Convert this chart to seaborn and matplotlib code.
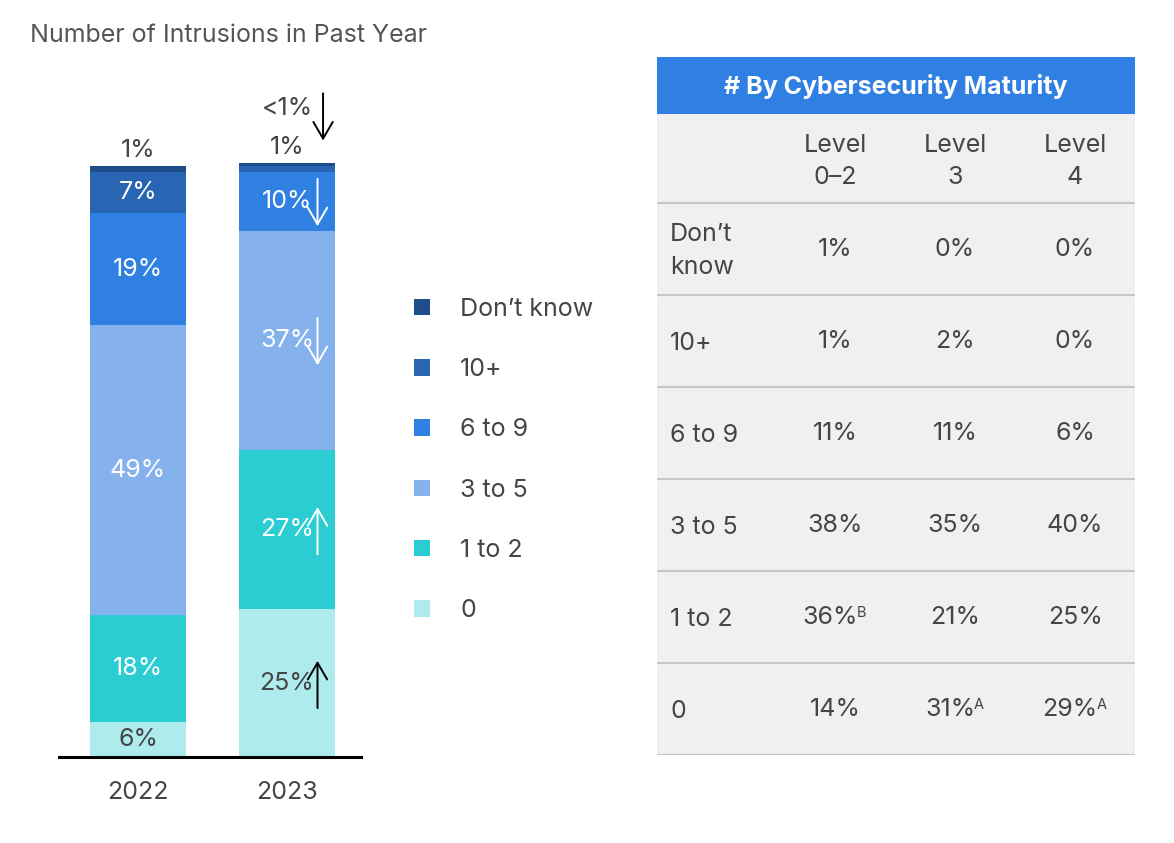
import numpy as np
import pandas as pd
import matplotlib
matplotlib.use('Agg')
import matplotlib.pyplot as plt
import seaborn as sns
from matplotlib.patches import Patch, Rectangle, FancyArrowPatch

# chart data
years = ['2022', '2023']
categories = ['0', '1 to 2', '3 to 5', '6 to 9', '10+', 'Don\u2019t know']
values_2022 = [6, 18, 49, 19, 7, 1]
values_2023 = [25, 27, 37, 10, 1, 0.5]
labels_2022 = ['6%', '18%', '49%', '19%', '7%', '1%']
labels_2023 = ['25%', '27%', '37%', '10%', '1%', '<1%']
trend_2023 = [1, 1, -1, -1, 0, -1]  # significant change vs 2022
colors = ['#aeebed', '#2bcdd3', '#85b1ed', '#2f80e1', '#2866b4', '#1f4c8a']
text_colors = ['#444444', 'white', 'white', 'white', 'white', '#444444']

# table data
table_title = '# By Cybersecurity Maturity'
table_rows = ['Don\u2019t\nknow', '10+', '6 to 9', '3 to 5', '1 to 2', '0']
table_cols = ['Level\n0\u20132', 'Level\n3', 'Level\n4']
level_02 = ['1%', '1%', '11%', '38%', '36%', '14%']
level_3 = ['0%', '2%', '11%', '35%', '21%', '31%']
level_4 = ['0%', '0%', '6%', '40%', '25%', '29%']
sup_02 = ['', '', '', '', 'B', '']
sup_3 = ['', '', '', '', '', 'A']
sup_4 = ['', '', '', '', '', 'A']

W, H = 1174, 843
TXT = '#454545'
FS = 18
PX = 100 / 72  # pixels per point

sns.set_theme(style='white')
plt.rcParams['font.family'] = ['Inter', 'DejaVu Sans']
plt.rcParams['font.weight'] = 'normal'

df = pd.DataFrame({
    'year': np.repeat(years, len(categories)),
    'category': categories * len(years),
    'value': values_2022 + values_2023,
    'label': labels_2022 + labels_2023,
})
df['cum'] = df.groupby('year')['value'].cumsum()

fig = plt.figure(figsize=(W / 100, H / 100), dpi=100)

# ---- stacked bars (cumulative bars drawn from the top down)
ax = fig.add_axes([59 / W, (H - 757) / H, 302 / W, 680 / H])
for i in reversed(range(len(categories))):
    sub = df[df['category'] == categories[i]]
    sns.barplot(data=sub, x='year', y='cum', color=colors[i], saturation=1,
                width=0.64, errorbar=None, linewidth=0, edgecolor='none', ax=ax)
ax.set_xlim(-0.53, 1.497)
ax.set_ylim(0, 115)
ax.set_xlabel('')
ax.set_ylabel('')
ax.set_yticks([])
for s in ['top', 'left', 'right']:
    ax.spines[s].set_visible(False)
ax.spines['bottom'].set_color('black')
ax.spines['bottom'].set_linewidth(2.2)
ax.spines['bottom'].set_zorder(5)
ax.tick_params(axis='x', length=0, pad=17, labelsize=FS, colors=TXT)


def draw_arrow(pos, off, d, c):
    # vertical arrow next to a label, in pixel space
    base = ax.transData.transform(pos)
    x0 = base[0] + off[0] * PX
    y0 = base[1] + off[1] * PX
    inv = fig.transFigure.inverted()
    tail = inv.transform((x0, y0 - 17 * d * PX))
    head = inv.transform((x0, y0 + 17 * d * PX))
    fig.add_artist(FancyArrowPatch(tail, head, transform=fig.transFigure,
                                   arrowstyle='->,head_length=0.6,head_width=0.35',
                                   color=c, lw=1.4, mutation_scale=20,
                                   shrinkA=0, shrinkB=0))


for xi, yr in enumerate(years):
    sub = df[df['year'] == yr].reset_index(drop=True)
    total = sub['value'].sum()
    n_out = 0
    for i, row in sub.iterrows():
        if row['value'] >= 3:
            y = row['cum'] - row['value'] / 2
            ax.text(xi, y, row['label'], ha='center', va='center',
                    fontsize=FS, color=text_colors[i])
            pos, off = (xi, y), (22, -1)
            c = 'white' if text_colors[i] == 'white' else 'black'
        else:
            dy = 11 + 28 * n_out
            n_out += 1
            ax.annotate(row['label'], xy=(xi, total), xytext=(0, dy),
                        textcoords='offset points', ha='center', va='center',
                        fontsize=FS, color=TXT)
            pos, off, c = (xi, total), (26, dy - 6), 'black'
        if yr == '2023' and trend_2023[i] != 0:
            draw_arrow(pos, off, trend_2023[i], c)

fig.text(30 / W, 1 - 35 / H, 'Number of Intrusions in Past Year',
         fontsize=FS, color='#555555', va='center', ha='left')

# ---- legend
handles = [Patch(facecolor=colors[i], edgecolor='none', label=categories[i])
           for i in reversed(range(len(categories)))]
fig.legend(handles=handles, loc='center left',
           bbox_to_anchor=(414 / W, 1 - 460 / H), frameon=False,
           fontsize=FS, handlelength=0.65, handleheight=0.65,
           handletextpad=1.2, labelspacing=1.49, borderaxespad=0, borderpad=0,
           labelcolor=TXT)

# ---- table
tx0, ty0, tw, th = 657, 57, 478, 698
tax = fig.add_axes([tx0 / W, (H - ty0 - th) / H, tw / W, th / H])
tax.set_xlim(0, tw)
tax.set_ylim(th, 0)
tax.axis('off')
head_h, colhead_h, row_h = 57, 89, 92
tax.add_patch(Rectangle((0, 0), tw, head_h, color='#2f80e2', lw=0))
tax.add_patch(Rectangle((0, head_h), tw, th - head_h, color='#f0f0f0', lw=0))
tax.text(tw / 2, head_h / 2 + 1, table_title, ha='center', va='center',
         fontsize=FS, fontweight='bold', color='white')
col_x = [178, 298, 418]
for cx, lab in zip(col_x, table_cols):
    tax.text(cx, head_h + colhead_h / 2 + 3, lab, ha='center', va='center',
             fontsize=FS, color=TXT, linespacing=1.55)
y_top = head_h + colhead_h
tax.axhline(y_top, color='#c6c6c6', lw=1.5)
columns = [(level_02, sup_02), (level_3, sup_3), (level_4, sup_4)]
for r, rl in enumerate(table_rows):
    yc = y_top + row_h * r + row_h / 2
    tax.text(13, yc + 2, rl, ha='left', va='center', fontsize=FS, color=TXT,
             linespacing=1.55)
    for cx, (vals, sups) in zip(col_x, columns):
        shift = -5 if sups[r] else 0
        t = tax.text(cx + shift, yc + 1, vals[r], ha='center', va='center',
                     fontsize=FS, color=TXT)
        if sups[r]:
            tax.annotate(sups[r], xy=(1, 1), xycoords=t, xytext=(-1, 0.5),
                         textcoords='offset points', ha='left', va='top',
                         fontsize=10.5, color=TXT)
    tax.axhline(y_top + row_h * (r + 1), color='#c6c6c6', lw=1.5)

fig.savefig('out.png', dpi=100, facecolor='white')
